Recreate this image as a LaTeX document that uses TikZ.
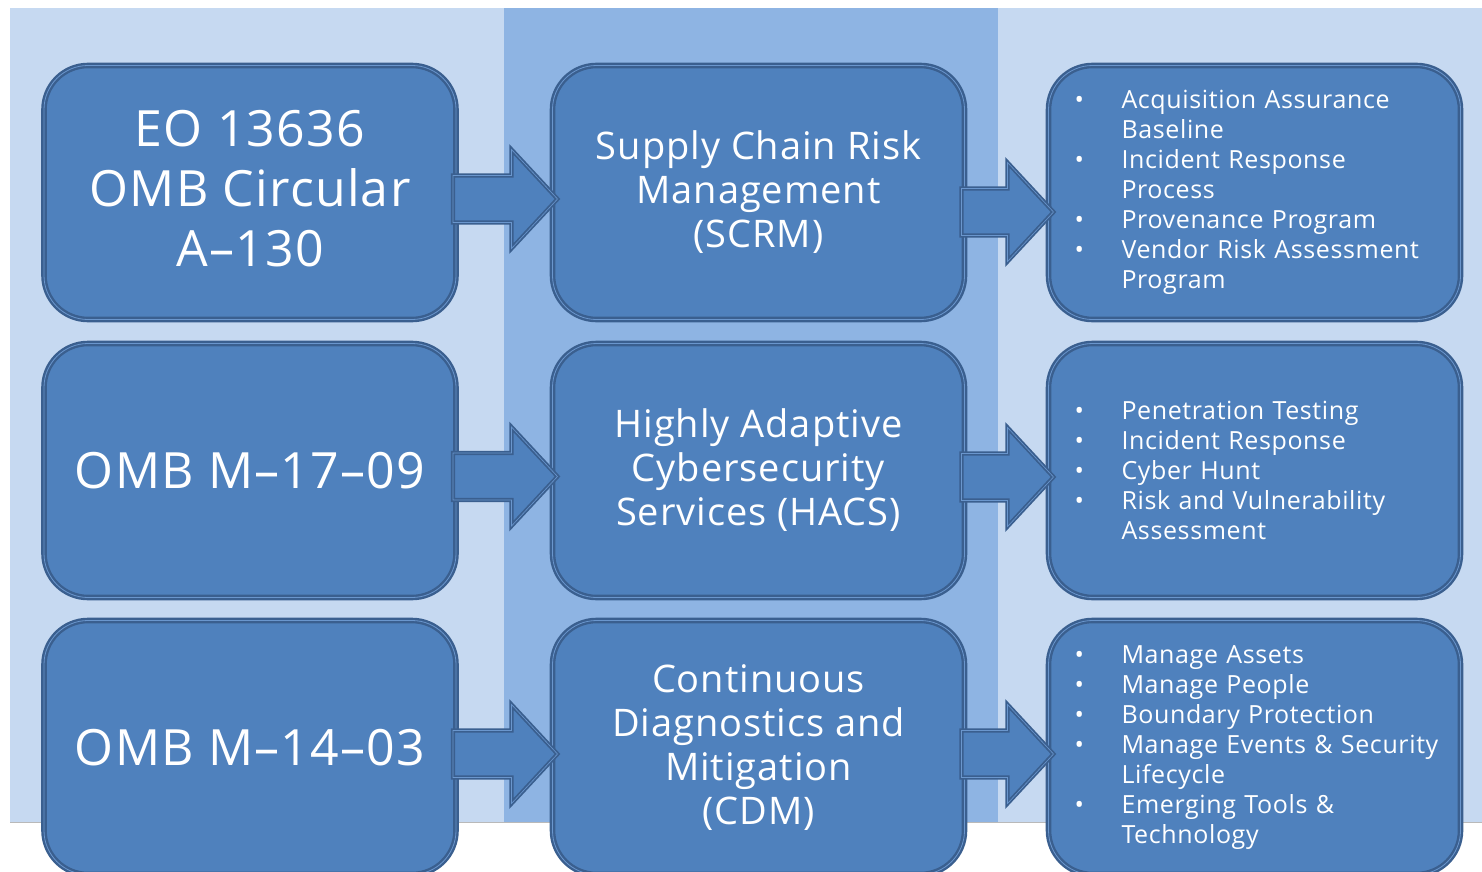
\documentclass[tikz,border=0pt]{standalone}
\usepackage{fontspec}
\setmainfont[LetterSpace=2.5]{Open Sans}
\usetikzlibrary{calc}

% Màu nền và màu hộp
\definecolor{nenSang}{HTML}{C6D9F1}
\definecolor{nenDam}{HTML}{8EB4E3}
\definecolor{mauHop}{HTML}{4F81BD}
\definecolor{vienHop}{HTML}{3A5F8F}
\definecolor{vienSang}{HTML}{6A96CD}

\tikzset{
	khung/.style={fill=mauHop, draw=vienHop, double=vienSang, double distance=0.8pt,
		line width=2.4pt, rounded corners=44pt, text=white, inner sep=0pt, outer sep=0pt,
		minimum width=412pt, minimum height=254pt},
	khungtrai/.style={khung, align=center, font=\fontsize{50}{60}\selectfont},
	khunggiua/.style={khung, align=center, font=\fontsize{38}{44}\selectfont},
	khungphai/.style={khung, align=left, text width=360pt, font=\fontsize{25}{30}\selectfont},
	muiten/.style={fill=mauHop, draw=vienHop, double=vienSang, double distance=0.6pt,
		line width=1.8pt, line join=miter}
}

% Dòng có dấu chấm đầu dòng và dòng tiếp theo
\newcommand{\muc}[1]{\makebox[47pt][l]{•}\mbox{#1}}
\newcommand{\tiep}[1]{\hspace*{47pt}\mbox{#1}}

% Mũi tên khối: hộp nguồn, hộp đích, độ lệch dọc
\newcommand{\mtkhoi}[3]{%
	\draw[muiten] ($(#1.east)+(-3,#3-23.5)$) -- ($(#2.west)+(-41,#3-23.5)$)
	-- ($(#2.west)+(-41,#3-49.5)$) -- ($(#2.west)+(5,#3)$)
	-- ($(#2.west)+(-41,#3+49.5)$) -- ($(#2.west)+(-41,#3+23.5)$)
	-- ($(#1.east)+(-3,#3+23.5)$) -- cycle;}

\begin{document}
\begin{tikzpicture}[x=1pt, y=-1pt, line cap=round, line join=round]
	
	\useasboundingbox (0,0) rectangle (1482,872);
	
	% Nền ba cột
	\fill[nenSang] (10,8) rectangle (504,822);
	\fill[nenDam] (504,8) rectangle (998,822);
	\fill[nenSang] (998,8) rectangle (1482,822);
	\draw[gray!55, line width=0.8pt, line cap=butt] (10,822) -- (1482,822);
	
	% Cột trái: văn bản pháp lý
	\node[khungtrai] (t1) at (250,192.5) {EO 13636\\OMB Circular\\A–130\vspace{8pt}};
	\node[khungtrai] (t2) at (250,470.5) {OMB M–17–09};
	\node[khungtrai] (t3) at (250,747.5) {OMB M–14–03};
	
	% Cột giữa: chương trình
	\node[khunggiua] (g1) at (758.5,192.5) {Supply Chain Risk\\Management\\(SCRM)};
	\node[khunggiua] (g2) at (758.5,470.5) {Highly Adaptive\\Cybersecurity\\Services (HACS)};
	\node[khunggiua] (g3) at (758.5,747.5) {Continuous\\Diagnostics and\\Mitigation\\(CDM)};
	
	% Cột phải: danh sách hạng mục
	\node[khungphai] (p1) at (1254.5,192.5) {\muc{Acquisition Assurance}\\\tiep{Baseline}\\
		\muc{Incident Response}\\\tiep{Process}\\\muc{Provenance Program}\\
		\muc{Vendor Risk Assessment}\\\tiep{Program}};
	\node[khungphai] (p2) at (1254.5,470.5) {\muc{Penetration Testing}\\\muc{Incident Response}\\
		\muc{Cyber Hunt}\\\muc{Risk and Vulnerability}\\\tiep{Assessment}};
	\node[khungphai] (p3) at (1254.5,747.5) {\muc{Manage Assets}\\\muc{Manage People}\\
		\muc{Boundary Protection}\\\muc{Manage Events \& Security}\\\tiep{Lifecycle}\\
		\muc{Emerging Tools \&}\\\tiep{Technology}};
	
	% Mũi tên nối các cột
	\mtkhoi{t1}{g1}{6.5}
	\mtkhoi{g1}{p1}{19.5}
	\mtkhoi{t2}{g2}{6}
	\mtkhoi{g2}{p2}{6.5}
	\mtkhoi{t3}{g3}{6.5}
	\mtkhoi{g3}{p3}{6.5}
	
\end{tikzpicture}
\end{document}
